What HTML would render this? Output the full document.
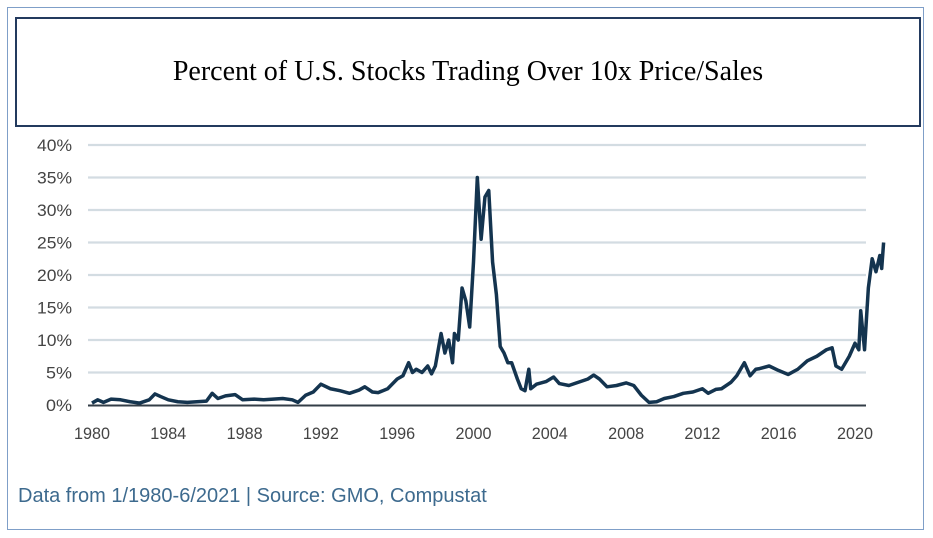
<!DOCTYPE html>
<html><head><meta charset="utf-8"><style>
body{margin:0;background:#fff;width:933px;height:538px;overflow:hidden;font-family:"Liberation Sans",sans-serif}
#frame{position:absolute;left:7px;top:7px;width:917px;height:523px;border:1.5px solid #7f9fc8;box-sizing:border-box}
#title{position:absolute;left:15px;top:17px;width:906px;height:110px;border:2px solid #233a5e;box-sizing:border-box;display:flex;align-items:center;justify-content:center;font-family:"Liberation Serif",serif;font-size:28px;color:#000}
#foot{position:absolute;left:18px;top:485px;font-size:20px;color:#3d6a8e;white-space:nowrap}
svg{position:absolute;left:0;top:0}
</style></head><body>
<div id="frame"></div>
<div id="title">Percent of U.S. Stocks Trading Over 10x Price/Sales</div>
<svg id="chart" width="933" height="538"></svg>
<div id="foot">Data from 1/1980-6/2021 | Source: GMO, Compustat</div>
<script>
const years=[1980.0,1980.3,1980.6,1981,1981.5,1982,1982.5,1983,1983.3,1983.6,1984,1984.5,1985,1985.5,1986,1986.3,1986.6,1987,1987.5,1987.9,1988.5,1989,1989.5,1990,1990.5,1990.8,1991.2,1991.6,1992,1992.5,1993,1993.5,1994,1994.3,1994.7,1995,1995.5,1996,1996.3,1996.6,1996.8,1997,1997.3,1997.6,1997.8,1998,1998.3,1998.5,1998.7,1998.9,1999.0,1999.2,1999.4,1999.6,1999.8,2000.0,2000.2,2000.4,2000.6,2000.8,2001.0,2001.2,2001.4,2001.6,2001.8,2002.0,2002.3,2002.5,2002.7,2002.9,2003.0,2003.3,2003.8,2004.2,2004.5,2005,2005.5,2006,2006.3,2006.6,2007,2007.5,2008,2008.4,2008.8,2009.2,2009.6,2010,2010.5,2011,2011.5,2012,2012.3,2012.7,2013,2013.5,2013.8,2014.2,2014.5,2014.8,2015,2015.5,2016,2016.5,2017,2017.5,2018,2018.5,2018.8,2019.0,2019.3,2019.7,2020.0,2020.2,2020.3,2020.5,2020.7,2020.9,2021.1,2021.3,2021.4,2021.5];
const values=[0.3,0.8,0.4,0.9,0.8,0.5,0.3,0.8,1.7,1.3,0.8,0.5,0.4,0.5,0.6,1.8,1.0,1.4,1.6,0.8,0.9,0.8,0.9,1.0,0.8,0.4,1.5,2.0,3.2,2.5,2.2,1.8,2.3,2.8,2.0,1.9,2.5,4.0,4.5,6.5,5.0,5.5,5.0,6.0,4.8,6.0,11,8,10,6.5,11,10,18,16,12,22,35,25.5,32,33,22,17,9,8,6.5,6.5,4.0,2.5,2.2,5.5,2.5,3.2,3.6,4.3,3.3,3.0,3.5,4.0,4.6,4.0,2.8,3.0,3.4,3.0,1.5,0.4,0.5,1.0,1.3,1.8,2.0,2.5,1.8,2.4,2.5,3.5,4.5,6.5,4.5,5.5,5.6,6.0,5.3,4.7,5.5,6.8,7.5,8.5,8.8,6.0,5.5,7.5,9.5,8.5,14.5,8.5,18,22.5,20.5,23,21,25];
const yTicks=[0,5,10,15,20,25,30,35,40];
const xTicks=[1980,1984,1988,1992,1996,2000,2004,2008,2012,2016,2020];
const NS="http://www.w3.org/2000/svg";
const svg=document.getElementById('chart');
const X=y=>92+(y-1980)*19.075;
const Y=v=>405-v*6.5;
function mk(t,a){const e=document.createElementNS(NS,t);for(const k in a)e.setAttribute(k,a[k]);svg.appendChild(e);return e;}
yTicks.forEach(v=>{
  if(v>0){const g=mk('line',{x1:88,x2:866,y1:Y(v),y2:Y(v),stroke:'#d3dce2','stroke-width':2.2});
  
  }
  const t=mk('text',{x:72,y:Y(v)+6,'text-anchor':'end','font-size':17,fill:'#444','textLength':v<10?26:35,'lengthAdjust':'spacingAndGlyphs'});
  t.textContent=v+'%';
  
  
});
xTicks.forEach(y=>{
  const t=mk('text',{x:X(y),y:439,'text-anchor':'middle','font-size':17,fill:'#444','textLength':36,'lengthAdjust':'spacingAndGlyphs'});
  t.textContent=y;
  
  
});
const ax=mk('line',{x1:88,x2:866,y1:405.5,y2:405.5,stroke:'#333d47','stroke-width':2});


const p=mk('polyline',{points:years.map((y,i)=>X(y)+','+Y(values[i])).join(' '),fill:'none',stroke:'#14344f','stroke-width':3.5,'stroke-linejoin':'round'});


</script>
</body></html>
